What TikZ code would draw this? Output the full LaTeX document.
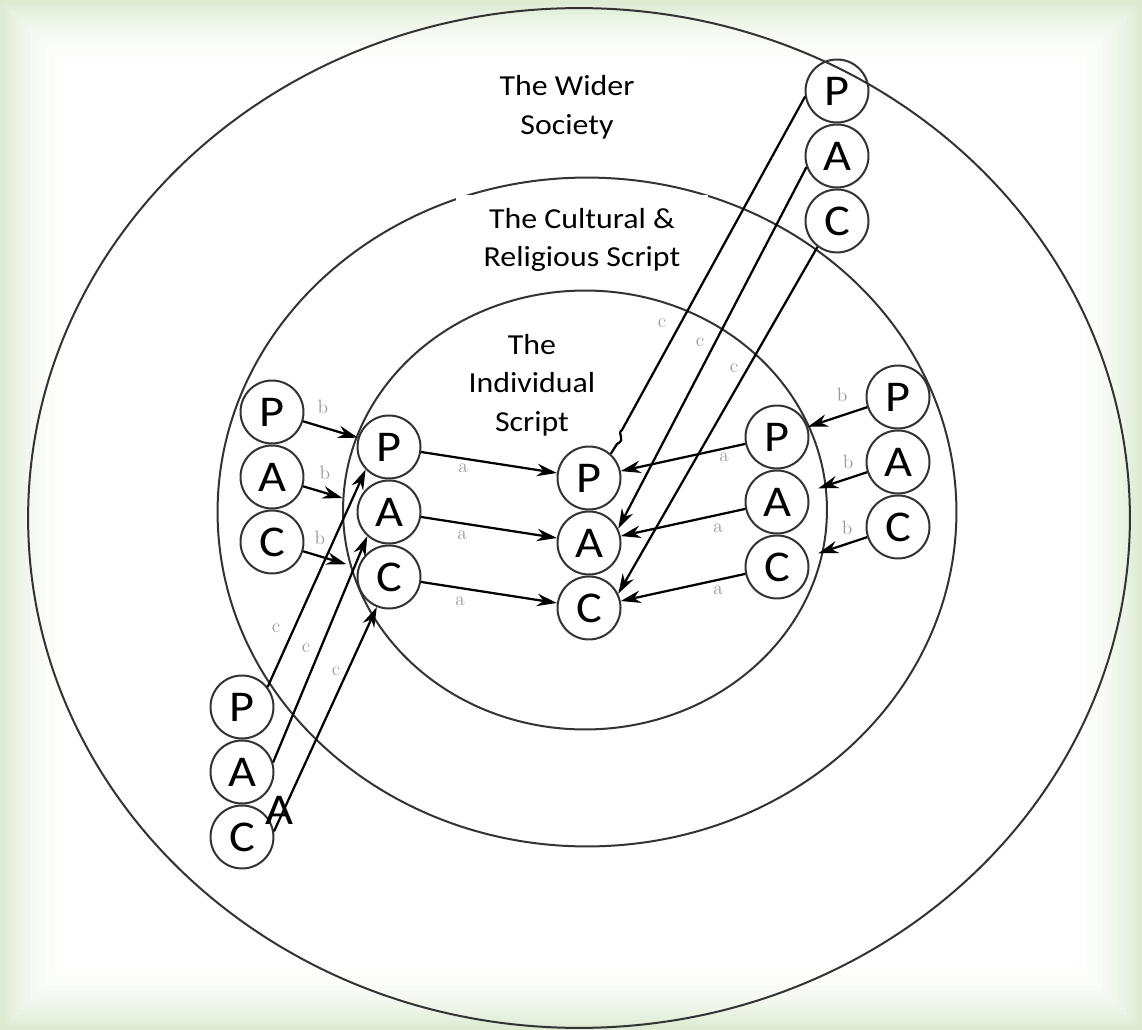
\documentclass[tikz,border=0pt]{standalone}
\usepackage{fontspec}
\newfontfamily\calfont[FakeStretch=1.1]{Carlito}
\usepackage{tikz}
\usetikzlibrary{arrows.meta,positioning}
\definecolor{ringx}{HTML}{333333}
\definecolor{edgex}{HTML}{DDEBD3}
\definecolor{markx}{HTML}{9A9A9A}
\tikzset{
  ring/.style={line width=0.4mm,ringx},
  pac/.style={circle,draw=ringx,line width=0.4mm,minimum size=1.26cm,inner sep=0pt,font=\calfont\fontsize{25}{25}\selectfont},
  ar/.style={-{Stealth[length=4mm,width=2.5mm]},line width=0.45mm,black},
  lab/.style={align=center,font=\calfont\fontsize{16.5}{22}\selectfont},
  mk/.style={markx,inner sep=0pt,font=\fontsize{11}{11}\selectfont}
}

\begin{document}
\begin{tikzpicture}[x=0.02cm,y=-0.02cm]
\useasboundingbox (0,0) rectangle (1142,1030);
% faded green frame
\foreach \i [evaluate=\i as \p using {int(100*(1-\i/14)^2)}] in {0,...,14}
  \fill[edgex!\p!white] (5*\i,5*\i) rectangle (1142-5*\i,1030-5*\i);
% the three rings
\draw[ring] (579,518) ellipse [x radius=11.02cm,y radius=10.2cm];
\draw[ring] (587,512) ellipse [x radius=7.39cm,y radius=6.69cm];
\draw[ring] (585,510) ellipse [x radius=4.84cm,y radius=4.39cm];
% ring names
\node[lab,fill=white,minimum width=5cm,minimum height=1.96cm] (wider) at (567,107) {The Wider\\Society};
\node[lab,fill=white,minimum width=5.04cm,minimum height=1.8cm] (cult) at (582,240) {The Cultural \&\\Religious Script};
\node[lab] (indiv) at (532,385) {The\\Individual\\Script};
% P-A-C stacks
\foreach \n/\x/\y in {t/837/91,ol/272/412,il/389/447,c/589/478,ir/777/437,or/898/397,b/242/707}{
  \node[pac] (\n P) at (\x,\y) {P};
  \node[pac,below=0pt of \n P] (\n A) {A};
  \node[pac,below=0pt of \n A] (\n C) {C};
}
\node[font=\calfont\fontsize{25}{25}\selectfont,inner sep=0pt] (strayA) at (279,810) {A};
% a: into the centre
\foreach \k in {P,A,C}{
  \draw[ar] (il\k) -- (c\k);
  \draw[ar] (ir\k) -- (c\k);
}
% b: from the cultural ring
\draw[ar] (olP) -- (ilP);
\draw[ar,shorten >=3.2mm] (olA) -- (ilA);
\draw[ar,shorten >=2.4mm] (olC) -- (ilC);
\draw[ar] (orP) -- (irP);
\draw[ar,shorten >=2.2mm] (orA) -- (irA);
\draw[ar,shorten >=2.2mm] (orC) -- (irC);
% c: from the wider society
\draw[ar] (bP.38) -- (ilP.224);
\draw[ar] (bA.17) -- (ilA.228);
\draw[ar] (bC.10) -- (ilC.248);
\coordinate (hook) at (622,430);
\draw[line width=0.45mm] (tP.190) -- (hook) .. controls (616,434) and (627,439) .. (617,444) -- (cP.48);
\draw[ar] (tA.200) -- (cA.26);
\draw[ar] (tC.233) -- (cC.26);
% faint letters on the arrows
\foreach \x/\y/\t [count=\i] in {323/407/b,325/473/b,320/538/b,463/468/a,462/535/a,460/601/a,
  276/628/c,306/648/c,336/671/c,662/323/c,700/342/c,734/368/c,
  724/457/a,718/528/a,718/590/a,842/395/b,848/462/b,847/528/b}
  \node[mk] (mk\i) at (\x,\y) {\t};
\end{tikzpicture}
\end{document}
